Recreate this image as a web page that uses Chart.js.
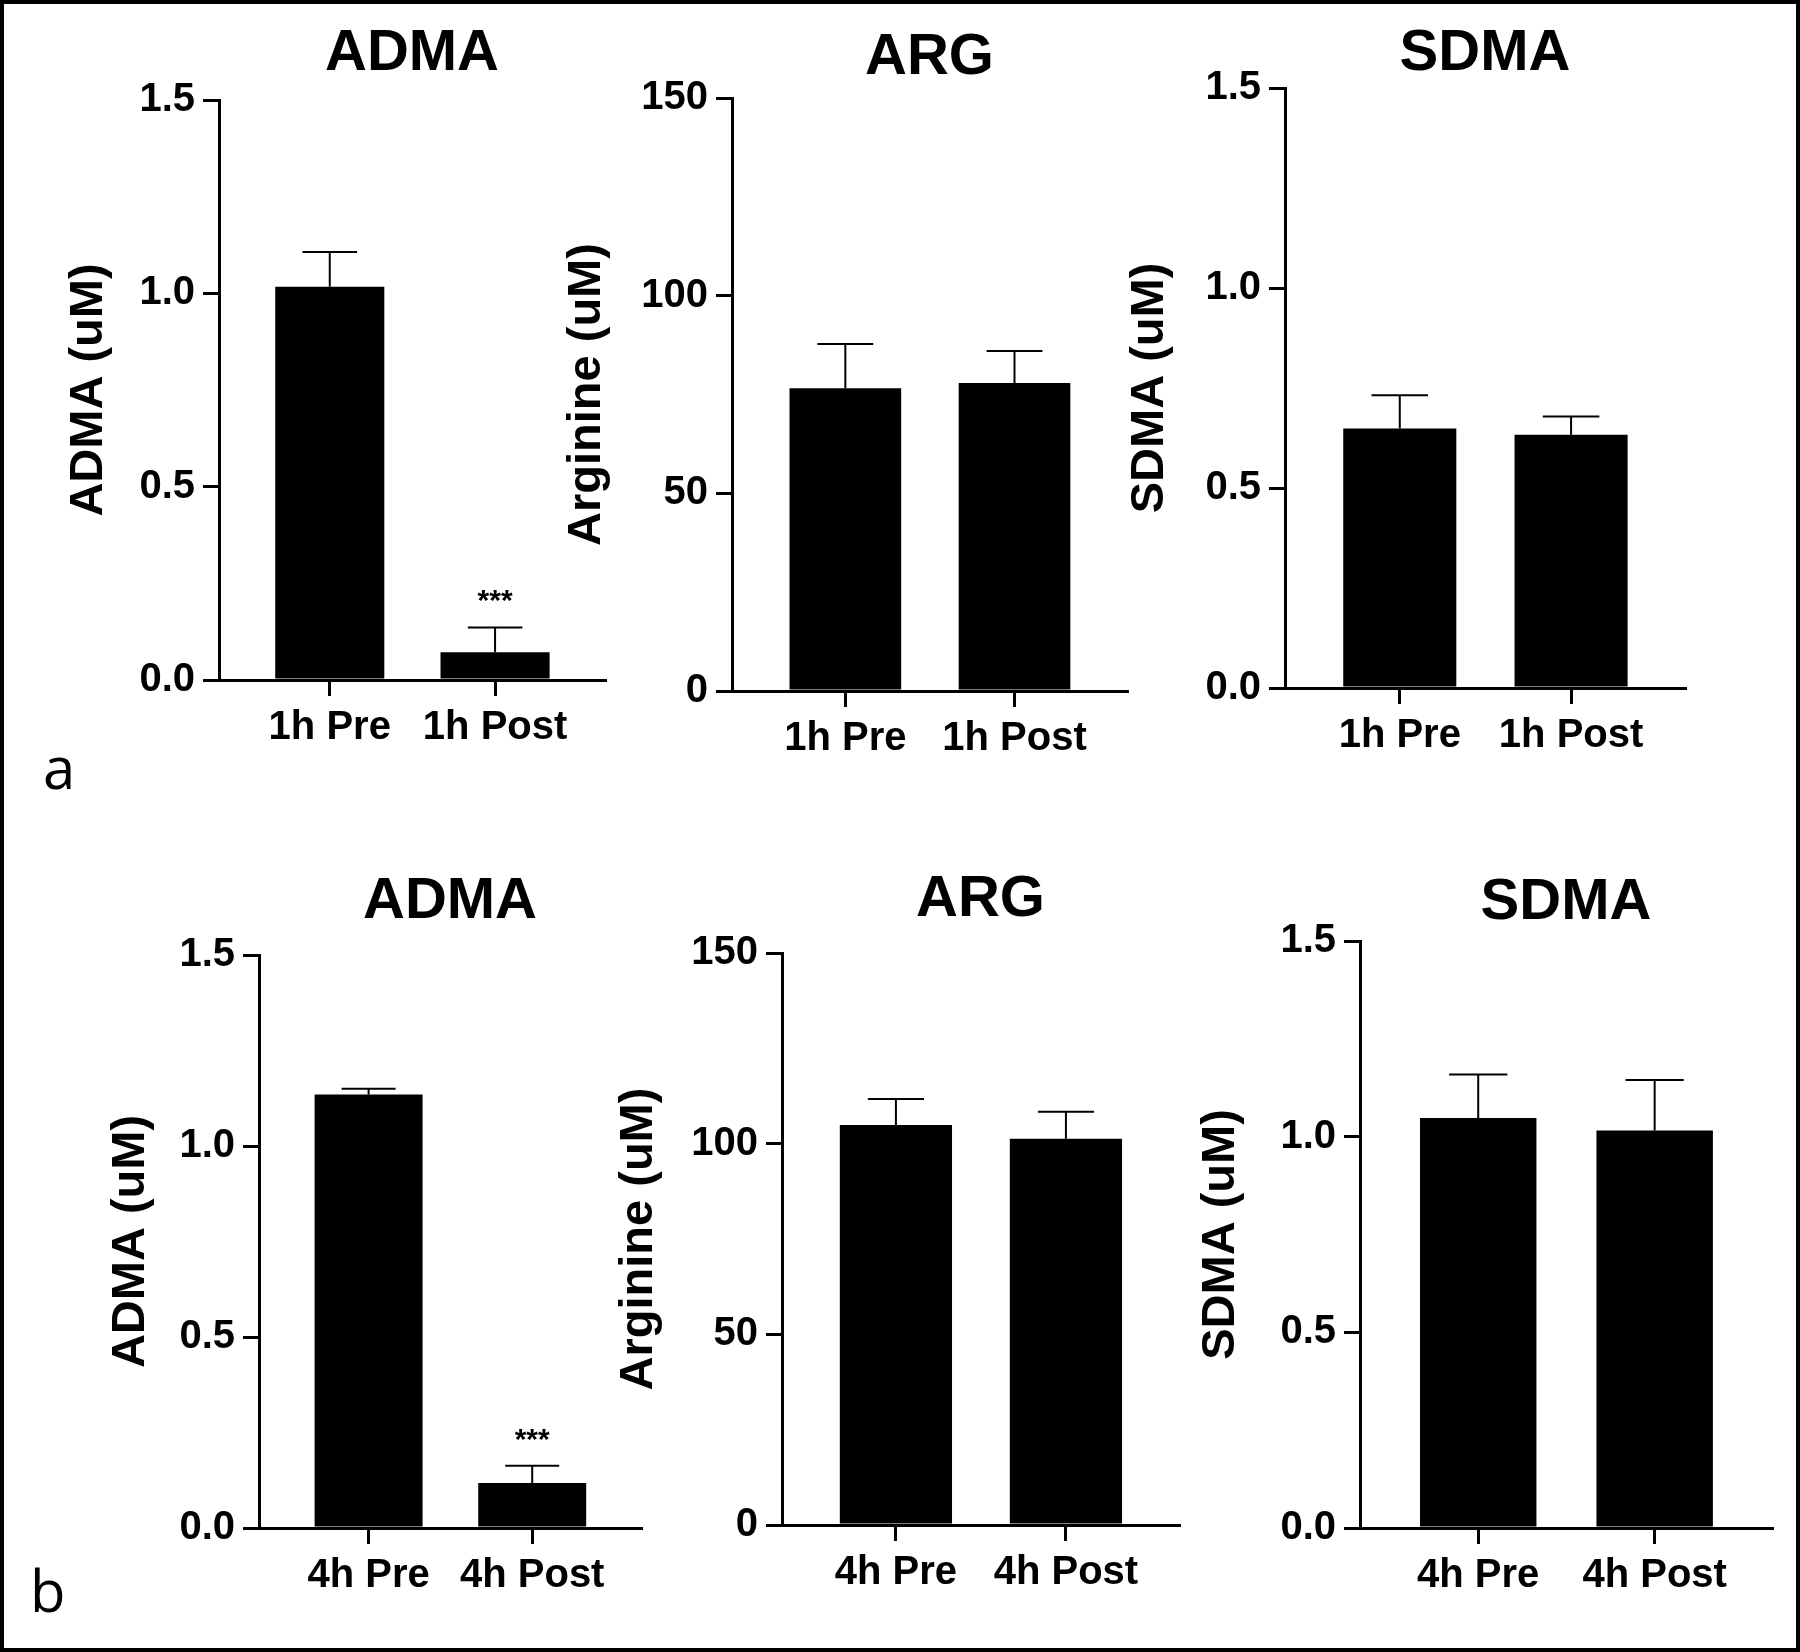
<!DOCTYPE html>
<html lang="en">
<head>
<meta charset="UTF-8">
<title>ADMA, ARG and SDMA - Pre vs Post</title>
<script src="https://cdn.jsdelivr.net/npm/chart.js"></script>
<style>
  html, body { margin: 0; padding: 0; background: #fff; }
  body { position: relative; width: 1800px; height: 1652px; overflow: hidden; }
  canvas { position: absolute; }
  #frame { position: absolute; left: 0; top: 0; width: 1800px; height: 1652px; box-sizing: border-box; border: 4px solid #000; pointer-events: none; }
  .panel-letter { position: absolute; font-family: 'Open Sans', sans-serif; font-size: 58px; line-height: 1; color: #000; }
</style>
</head>
<body>
<div class="panel-letter" style="left:43px; top:738px;">a</div>
<div class="panel-letter" style="left:30px; top:1561px;">b</div>
<div id="frame"></div>

<script>
// categories
const labels1h = ['1h Pre', '1h Post'];
const labels4h = ['4h Pre', '4h Post'];

// y tick labels
const ticksUm = ['0.0', '0.5', '1.0', '1.5'];
const ticksArg = ['0', '50', '100', '150'];

// means and SEM
const adma1h = [1.017, 0.072];
const adma1hErr = [0.090, 0.064];
const arg1h = [76.6, 77.9];
const arg1hErr = [11.2, 8.1];
const sdma1h = [0.649, 0.633];
const sdma1hErr = [0.083, 0.046];

const adma4h = [1.135, 0.118];
const adma4hErr = [0.015, 0.045];
const arg4h = [104.9, 101.3];
const arg4hErr = [6.8, 7.1];
const sdma4h = [1.048, 1.016];
const sdma4hErr = [0.111, 0.129];

// significance marks
const adma1hSig = ['', '***'];
const adma4hSig = ['', '***'];
const noSig = ['', ''];

const panels = [
  { title: 'ADMA', yTitle: 'ADMA (uM)', labels: labels1h, values: adma1h, errors: adma1hErr, marks: adma1hSig, yTicks: ticksUm },
  { title: 'ARG', yTitle: 'Arginine (uM)', labels: labels1h, values: arg1h, errors: arg1hErr, marks: noSig, yTicks: ticksArg },
  { title: 'SDMA', yTitle: 'SDMA (uM)', labels: labels1h, values: sdma1h, errors: sdma1hErr, marks: noSig, yTicks: ticksUm },
  { title: 'ADMA', yTitle: 'ADMA (uM)', labels: labels4h, values: adma4h, errors: adma4hErr, marks: adma4hSig, yTicks: ticksUm },
  { title: 'ARG', yTitle: 'Arginine (uM)', labels: labels4h, values: arg4h, errors: arg4hErr, marks: noSig, yTicks: ticksArg },
  { title: 'SDMA', yTitle: 'SDMA (uM)', labels: labels4h, values: sdma4h, errors: sdma4hErr, marks: noSig, yTicks: ticksUm }
];

// where each plot sits on the page (axis box, y title centre, title centre)
const layouts = [
  { left: 219, right: 605, top: 100, bottom: 680, yTitleX: 89, titleY: 54 },
  { left: 732, right: 1127, top: 98, bottom: 691, yTitleX: 587, titleY: 58 },
  { left: 1285, right: 1685, top: 88, bottom: 688, yTitleX: 1150, titleY: 54 },
  { left: 259, right: 641, top: 955, bottom: 1528, yTitleX: 131, titleY: 902 },
  { left: 782, right: 1179, top: 953, bottom: 1525, yTitleX: 639, titleY: 900 },
  { left: 1360, right: 1772, top: 941, bottom: 1528, yTitleX: 1221, titleY: 903 }
];

const FONT = "'Liberation Sans', Arial, sans-serif";
const TITLE_SIZE = 58;
const Y_TITLE_SIZE = 47;
const X_AXIS_H = 80;
const RIGHT_PAD = 10;

Chart.defaults.font.family = FONT;
Chart.defaults.color = '#000';

// Prism style error bars (upper whisker only) + significance stars
const errorBars = {
  id: 'errorBars',
  afterDatasetsDraw(chart) {
    const ctx = chart.ctx;
    const yScale = chart.scales.y;
    chart.data.datasets.forEach((ds, di) => {
      const meta = chart.getDatasetMeta(di);
      meta.data.forEach((bar, i) => {
        const top = yScale.getPixelForValue(ds.data[i].y + ds.errors[i]);
        const half = bar.width / 4;
        ctx.save();
        ctx.strokeStyle = '#000';
        ctx.lineWidth = 2;
        ctx.beginPath();
        ctx.moveTo(bar.x, bar.y);
        ctx.lineTo(bar.x, top);
        ctx.moveTo(bar.x - half, top);
        ctx.lineTo(bar.x + half, top);
        ctx.stroke();
        if (ds.marks[i]) {
          ctx.font = 'bold 30px ' + FONT;
          ctx.textAlign = 'center';
          ctx.textBaseline = 'alphabetic';
          ctx.fillStyle = '#000';
          ctx.fillText(ds.marks[i], bar.x, top - 17);
        }
        ctx.restore();
      });
    });
  }
};

function axisLines() {
  return {
    display: true,
    offset: false,
    drawOnChartArea: false,
    drawTicks: true,
    tickLength: 16,
    tickWidth: 3,
    tickColor: '#000',
    color: '#000',
    lineWidth: 3
  };
}

function drawPanel(p, lay) {
  const L = Math.round(lay.yTitleX - Y_TITLE_SIZE / 2);
  const T = Math.round(lay.titleY - TITLE_SIZE / 2);
  const yW = lay.left - L;
  const topH = lay.top - T;
  const W = lay.right - L + RIGHT_PAD;
  const H = lay.bottom - T + X_AXIS_H;

  const canvas = document.createElement('canvas');
  canvas.width = W;
  canvas.height = H;
  canvas.style.left = L + 'px';
  canvas.style.top = T + 'px';
  document.body.appendChild(canvas);

  const yMax = Number(p.yTicks[p.yTicks.length - 1]);
  const yStep = Number(p.yTicks[1]) - Number(p.yTicks[0]);

  new Chart(canvas, {
    type: 'bar',
    data: {
      datasets: [{
        data: p.values.map((v, i) => ({ x: i, y: v })),
        errors: p.errors,
        marks: p.marks,
        xAxisID: 'x',
        yAxisID: 'y',
        backgroundColor: '#000',
        borderWidth: 0,
        barPercentage: 0.66,
        categoryPercentage: 1
      }]
    },
    options: {
      responsive: false,
      animation: false,
      devicePixelRatio: 1,
      layout: { padding: { left: 0, top: 0, right: RIGHT_PAD, bottom: 0 } },
      plugins: {
        legend: { display: false },
        tooltip: { enabled: false },
        title: { display: false }
      },
      scales: {
        x: {
          type: 'linear',
          position: 'bottom',
          offset: false,
          min: -0.67,
          max: 1.665,
          afterBuildTicks: s => { s.ticks = p.labels.map((_, i) => ({ value: i })); },
          ticks: {
            callback: v => p.labels[v],
            font: { size: 40, weight: 'bold' },
            color: '#000',
            padding: 8,
            maxRotation: 0,
            autoSkip: false
          },
          grid: axisLines(),
          border: { display: true, color: '#000', width: 3 },
          afterFit: s => { s.height = X_AXIS_H; }
        },
        head: {
          type: 'linear',
          position: 'top',
          min: 0,
          max: 1,
          ticks: { display: false },
          grid: { display: false },
          border: { display: false },
          title: {
            display: true,
            text: p.title,
            font: { size: TITLE_SIZE, weight: 'bold', lineHeight: 1 },
            color: '#000',
            padding: 0
          },
          afterFit: s => { s.height = topH; }
        },
        y: {
          type: 'linear',
          position: 'left',
          min: 0,
          max: yMax,
          ticks: {
            stepSize: yStep,
            callback: (v, i) => p.yTicks[i],
            font: { size: 40, weight: 'bold' },
            color: '#000',
            padding: 8
          },
          grid: axisLines(),
          border: { display: true, color: '#000', width: 3 },
          title: {
            display: true,
            text: p.yTitle,
            font: { size: Y_TITLE_SIZE, weight: 'bold', lineHeight: 1 },
            color: '#000',
            padding: 0
          },
          afterFit: s => { s.width = yW; }
        }
      }
    },
    plugins: [errorBars]
  });
}

panels.forEach((p, i) => drawPanel(p, layouts[i]));
</script>
</body>
</html>
